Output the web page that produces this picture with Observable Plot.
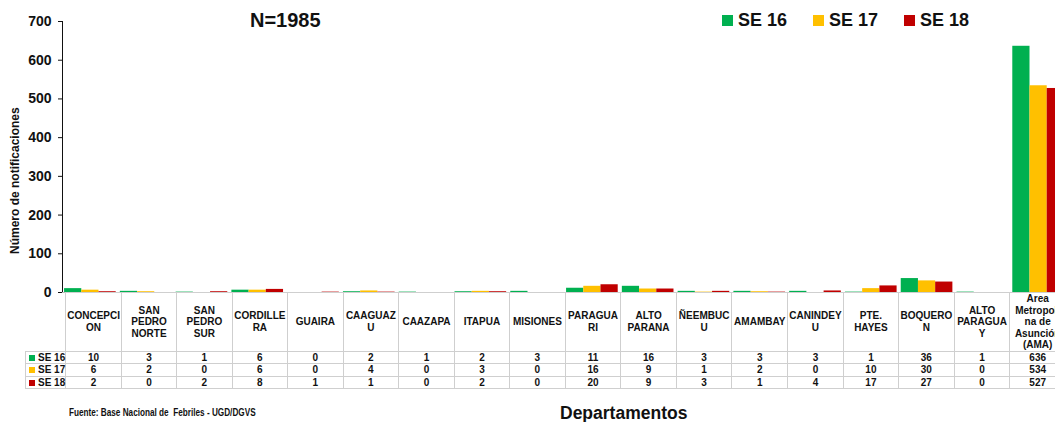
<!DOCTYPE html>
<html>
<head>
<meta charset="utf-8">
<script src="https://cdn.jsdelivr.net/npm/d3@7"></script>
<script src="https://cdn.jsdelivr.net/npm/@observablehq/plot@0.6"></script>
<style>
  body { margin: 0; overflow: hidden; background: #fff; font-family: "Liberation Sans", Arial, sans-serif; }
  #wrap { position: relative; width: 1066px; height: 422px; }
  #chart { position: absolute; left: 0; top: 0; }
  .title { position: absolute; left: 250px; top: 9px; font-size: 20px; font-weight: bold; color: #111; }
  .legend { position: absolute; left: 722px; top: 10px; font-size: 18px; font-weight: bold; color: #111; display: flex; }
  .legend span.item { display: flex; align-items: center; margin-right: 26px; }
  .legend i { display: inline-block; width: 11px; height: 11px; margin-right: 5px; }
  .ylabel { position: absolute; left: 8px; top: 254px; transform: rotate(-90deg); transform-origin: 0 0; font-size: 12px; font-weight: bold; color: #111; white-space: nowrap; }
  table { position: absolute; left: 25px; top: 292px; border-collapse: collapse; table-layout: fixed; font-size: 10px; font-weight: bold; color: #111; }
  td { border: 1px solid #cfcfcf; text-align: center; padding: 0; line-height: 11.5px; }
  td.head { height: 57px; white-space: pre-line; vertical-align: middle; }
  td.blank { border: none; border-right: 1px solid #cfcfcf; }
  td.key { text-align: left; white-space: nowrap; padding-left: 3px; }
  td.key i { display: inline-block; width: 6px; height: 6px; margin-right: 3px; }
  .fuente { position: absolute; left: 69px; top: 406px; font-size: 10.5px; font-weight: bold; color: #111; transform: scaleX(0.78); transform-origin: 0 0; white-space: nowrap; }
  .xlabel { position: absolute; left: 560px; top: 403px; font-size: 17.5px; font-weight: bold; color: #111; }
</style>
</head>
<body>
<div id="wrap">
  <div id="chart"></div>
  <div class="title">N=1985</div>
  <div class="legend" id="legend"></div>
  <div class="ylabel">Número de notificaciones</div>
  <table id="tbl"></table>
  <div class="fuente">Fuente: Base Nacional de&nbsp; Febriles - UGD/DGVS</div>
  <div class="xlabel">Departamentos</div>
</div>
<script>
const departamentos = ['CONCEPCION', 'SAN PEDRO NORTE', 'SAN PEDRO SUR', 'CORDILLERA', 'GUAIRA', 'CAAGUAZU', 'CAAZAPA', 'ITAPUA', 'MISIONES', 'PARAGUARI', 'ALTO PARANA', 'ÑEEMBUCU', 'AMAMBAY', 'CANINDEYU', 'PTE. HAYES', 'BOQUERON', 'ALTO PARAGUAY', 'Area Metropolitana de Asunción (AMA)'];
// how the names wrap in the table header
const encabezados = ['CONCEPCI\nON', 'SAN\nPEDRO\nNORTE', 'SAN\nPEDRO\nSUR', 'CORDILLE\nRA', 'GUAIRA', 'CAAGUAZ\nU', 'CAAZAPA', 'ITAPUA', 'MISIONES', 'PARAGUA\nRI', 'ALTO\nPARANA', 'ÑEEMBUC\nU', 'AMAMBAY', 'CANINDEY\nU', 'PTE.\nHAYES', 'BOQUERO\nN', 'ALTO\nPARAGUA\nY', 'Area\nMetropoli\nna de\nAsunción\n(AMA)'];
const semanas = ['SE 16', 'SE 17', 'SE 18'];
const se16 = [10, 3, 1, 6, 0, 2, 1, 2, 3, 11, 16, 3, 3, 3, 1, 36, 1, 636];
const se17 = [6, 2, 0, 6, 0, 4, 0, 3, 0, 16, 9, 1, 2, 0, 10, 30, 0, 534];
const se18 = [2, 0, 2, 8, 1, 1, 0, 2, 0, 20, 9, 3, 1, 4, 17, 27, 0, 527];
const colores = ['#00B050', '#FFC000', '#C00000'];

const series = [se16, se17, se18];
const data = [];
departamentos.forEach((d, i) => {
  semanas.forEach((s, j) => data.push({depto: d, semana: s, valor: series[j][i]}));
});

const W = 1066, ML = 62;
const colW = (W - ML) / departamentos.length;

let chart = Plot.plot({
  width: W,
  height: 300,
  marginLeft: ML,
  marginRight: 0,
  marginTop: 21,
  marginBottom: 8,
  style: {fontFamily: '"Liberation Sans", Arial, sans-serif', fontSize: '14px', fontWeight: 'bold', color: '#111'},
  fx: {domain: departamentos, padding: 0, round: false, axis: null},
  x: {domain: semanas, paddingInner: 0, paddingOuter: 0.12, round: false, axis: null},
  y: {domain: [0, 700], ticks: d3.range(0, 701, 100), tickSize: 4, tickPadding: 7, label: null, line: true},
  color: {domain: semanas, range: colores},
  marks: [
    Plot.barY(data, {fx: 'depto', x: 'semana', y: 'valor', fill: 'semana'}),
    Plot.ruleY([0], {stroke: '#bbb'})
  ]
});
d3.select(chart).selectAll('[aria-label="y-axis tick"], [aria-label="y-axis line"]').attr('stroke', '#c8c8c8');
d3.select('#chart').append(() => chart);

// legend
const leg = d3.select('#legend');
semanas.forEach((s, j) => {
  const it = leg.append('span').attr('class', 'item');
  it.append('i').style('background', colores[j]);
  it.append('span').text(s);
});

// data table under the bars
const tbl = d3.select('#tbl');
const cg = tbl.append('colgroup');
cg.append('col').style('width', (ML - 25) + 'px');
departamentos.forEach(() => cg.append('col').style('width', colW + 'px'));
const hr = tbl.append('tr');
hr.append('td').attr('class', 'blank');
encabezados.forEach(h => hr.append('td').attr('class', 'head').text(h));
semanas.forEach((s, j) => {
  const tr = tbl.append('tr');
  const k = tr.append('td').attr('class', 'key');
  k.append('i').style('background', colores[j]);
  k.append('span').text(s);
  series[j].forEach(v => tr.append('td').text(v));
});
</script>
</body>
</html>
